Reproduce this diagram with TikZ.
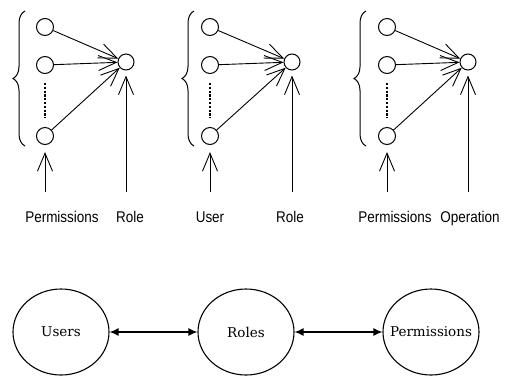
\documentclass[tikz,border=0pt]{standalone}
\usepackage{fontspec}
\usepackage{graphicx}
\setmainfont{Liberation Sans}
\newfontfamily\slabfont{DejaVu Serif}
\usetikzlibrary{arrows.meta,decorations.pathreplacing,shapes.geometric}
\newcommand\narrowtxt[1]{\scalebox{0.87}[1]{#1}}
\tikzset{
  item/.style={circle,draw,line width=1pt,minimum size=17pt,inner sep=0pt},
  target/.style={circle,draw,line width=1pt,minimum size=16pt,inner sep=0pt},
  feed/.style={line width=0.9pt,-{Straight Barb[length=18pt,width=15pt,line width=0.9pt]}},
  rung/.style={line width=1.8pt,dash pattern=on 2.2pt off 1.6pt,shorten <=9pt,shorten >=9pt},
  caption/.style={font=\fontsize{15.5}{16}\selectfont,inner sep=1pt,anchor=base},
  setbrace/.style={decorate,decoration={brace,amplitude=12pt},line width=1pt},
  entity/.style={ellipse,draw,line width=1.1pt,minimum width=96pt,minimum height=86pt,
    inner xsep=-9pt,inner ysep=0pt,font=\slabfont\fontsize{13.5}{14}\selectfont},
  link/.style={line width=1.4pt,{Latex[length=9pt,width=8pt]}-{Latex[length=9pt,width=8pt]}}
}
\begin{document}
\begin{tikzpicture}[x=1pt,y=-1pt]
\useasboundingbox (0,0) rectangle (512,376);
\fill[white] (0,0) rectangle (512,376);

% three small set-to-element panels
% panel / brace end x / member x / target x / left label / its x / right label / its x
\foreach \p/\bx/\cx/\rx/\la/\lax/\lb/\lbx in
  {1/25/45/126/Permissions/62/Role/130,
   2/194/210/292/User/210/Role/290,
   3/366/387/468/Permissions/395/Operation/470}{
  \node[item] (c\p a) at (\cx,27) {};
  \node[item] (c\p b) at (\cx,65) {};
  \node[item] (c\p c) at (\cx,136) {};
  \node[target] (r\p) at (\rx,62) {};
  \draw[setbrace] (\bx,146) -- (\bx,11);
  \draw[rung] (c\p b) -- (c\p c);
  \draw[feed] (c\p a) -- (r\p);
  \draw[feed] (c\p b) -- (r\p);
  \draw[feed] (c\p c) -- (r\p);
  \node[caption] (la\p) at (\lax,222) {\narrowtxt{\la}};
  \node[caption] (lb\p) at (\lbx,222) {\narrowtxt{\lb}};
  \coordinate (sa\p) at (\cx,192);
  \coordinate (sb\p) at (\rx,192);
  \draw[feed,shorten >=7pt] (sa\p) -- (c\p c);
  \draw[feed,shorten >=5pt] (sb\p) -- (r\p);
}

% users - roles - permissions
\node[entity] (users) at (61,332) {Users};
\node[entity] (roles) at (246,332) {Roles};
\node[entity] (perms) at (431,332) {Permissions};
\draw[link] (users) -- (roles);
\draw[link] (roles) -- (perms);
\end{tikzpicture}
\end{document}
